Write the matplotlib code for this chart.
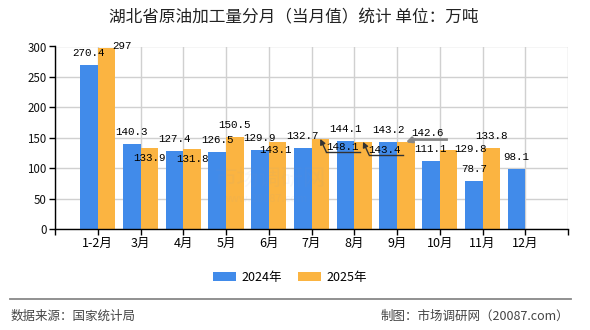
import matplotlib
matplotlib.use("Agg")
import matplotlib.pyplot as plt
import matplotlib.transforms as mtrans
from matplotlib.lines import Line2D
from matplotlib.patches import Patch
import numpy as np

plt.rcParams['font.family'] = ['Noto Sans CJK SC', 'DejaVu Sans']

title = "湖北省原油加工量分月（当月值）统计 单位：万吨"
categories = ["1-2月", "3月", "4月", "5月", "6月", "7月", "8月", "9月", "10月", "11月", "12月"]
series_names = ["2024年", "2025年"]
values_2024 = [270.4, 140.3, 127.4, 126.5, 129.9, 132.7, 144.1, 143.2, 111.1, 78.7, 98.1]
values_2025 = [297, 133.9, 131.8, 150.5, 143.1, 148.1, 143.4, 142.6, 129.8, 133.8, None]
source_text = "数据来源：国家统计局"
maker_text = "制图：市场调研网（20087.com）"
watermark = "市场调研网"
watermark_url = "www.20087.com"

# label offsets in pixels (dx, dy) relative to the bar top centre
offsets_2024 = [(0, 12)] * 11
offsets_2025 = [(16, 2), (0, -10), (0, -10), (0, 12), (-2, -8), (22, -8),
                (21, -8), (22, 9), (22, 1), (0, 12), None]
# leader lines: index -> (corner offset, end offset, color, lw)
leaders = {5: ((6, -13), (40, -13), "#333333", 1.0),
           6: ((6, -13), (40, -13), "#333333", 1.0),
           7: ((9, 3), (40, 3), "#888888", 2.0)}

c24 = "#418BEA"
c25 = "#FBB441"

fig = plt.figure(figsize=(5.9, 3.3), dpi=100)
ax = fig.add_axes([55/590, 1-229/330, (568-55)/590, (229-46.5)/330])

x = np.arange(1, len(categories)+1)
w = 0.41
v24 = np.array(values_2024, dtype=float)
v25 = np.array([np.nan if v is None else v for v in values_2025], dtype=float)
ax.bar(x - w/2, v24, width=w, color=c24, zorder=3)
ax.bar(x + w/2, np.nan_to_num(v25), width=w, color=c25, zorder=3)

ax.set_xlim(0, 12)
ax.set_ylim(0, 300)
ax.set_yticks(np.arange(0, 301, 50))
ax.set_xticks(np.arange(0, 13))
ax.set_xticklabels([""] + categories + [""])
ax.grid(True, color="#d0d0d0", lw=1, zorder=0)
for s in ["top", "right"]:
    ax.spines[s].set_visible(False)
for s in ["left", "bottom"]:
    ax.spines[s].set_color("black")
    ax.spines[s].set_linewidth(1)
    ax.spines[s].set_zorder(4)
ax.tick_params(axis="both", length=4, width=1, color="black", pad=2)
ax.tick_params(axis="x", labelsize=9)
ax.tick_params(axis="y", labelsize=8.3, labelcolor="#111111")

label_font = dict(family=["Liberation Mono", "DejaVu Sans Mono"], fontsize=7.8, color="black")

def put_label(xc, v, off):
    tr = mtrans.offset_copy(ax.transData, fig=fig, x=off[0], y=off[1], units="dots")
    ax.text(xc, v, f"{v:g}", transform=tr, ha="center", va="center", zorder=6, **label_font)

for i, v in enumerate(v24):
    put_label(x[i] - w/2, v, offsets_2024[i])
for i, v in enumerate(v25):
    if np.isnan(v):
        continue
    xc = x[i] + w/2
    put_label(xc, v, offsets_2025[i])
    if i in leaders:
        corner, end, col, lw = leaders[i]
        ax.annotate("", xy=(xc, v), xycoords="data",
                    xytext=corner, textcoords="offset pixels",
                    arrowprops=dict(arrowstyle="-|>", color=col, lw=lw,
                                    shrinkA=0, shrinkB=0, mutation_scale=8),
                    zorder=6)
        tr0 = mtrans.offset_copy(ax.transData, fig=fig, x=corner[0], y=corner[1], units="dots")
        tr1 = mtrans.offset_copy(ax.transData, fig=fig, x=end[0], y=end[1], units="dots")
        p0 = tr0.transform((xc, v))
        p1 = tr1.transform((xc, v))
        fig.add_artist(Line2D([p0[0], p1[0]], [p0[1], p1[1]], transform=None,
                              color=col, lw=lw, zorder=6))

# faint watermark
fig.text(270/590, 1-178/330, watermark, fontsize=16, color="#8899bb", alpha=0.07,
         ha="center", va="center", zorder=5)
fig.text(265/590, 1-199/330, watermark_url, fontsize=8, color="#8899bb", alpha=0.07,
         ha="center", va="center", zorder=5)

fig.text(294/590, 1-17.5/330, title, ha="center", va="center", fontsize=12, color="#222222")

handles = [Patch(facecolor=c24), Patch(facecolor=c25)]
fig.legend(handles, series_names, loc="center", bbox_to_anchor=(290/590, 1-277/330),
           ncol=2, frameon=False, fontsize=9, handlelength=1.85, handleheight=0.75,
           handletextpad=0.4, columnspacing=1.3, borderpad=0)

fig.add_artist(Line2D([10/590, 571/590], [1-298.5/330, 1-298.5/330], transform=fig.transFigure,
                      color="#888888", lw=1.3))
fig.text(11/590, 1-316/330, source_text, ha="left", va="center", fontsize=9, color="#444444")
fig.text(569/590, 1-316/330, maker_text, ha="right", va="center", fontsize=9, color="#444444")

fig.savefig("out.png", dpi=100)
